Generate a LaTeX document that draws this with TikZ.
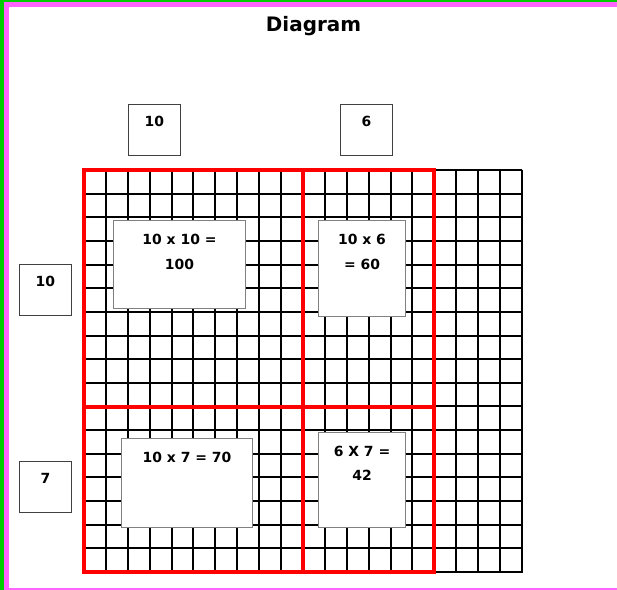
\documentclass[tikz,border=0pt]{standalone}
\usepackage{fontspec}
\setmainfont{DejaVu Sans}
\usetikzlibrary{positioning}
\definecolor{FrameGreen}{RGB}{0,204,0}
\definecolor{FrameMagenta}{RGB}{255,102,255}
\definecolor{PartRed}{RGB}{255,0,0}
\definecolor{BoxGray}{RGB}{128,128,128}

\begin{document}
\begin{tikzpicture}[
  x=1bp, y=-1bp, % one unit is one pixel of the page, y runs downwards
  every node/.style={font=\bfseries\fontsize{14}{25}\selectfont},
  titletext/.style={font=\bfseries\fontsize{20}{24}\selectfont, anchor=base},
  gridline/.style={draw=black, line width=2.2bp},
  partline/.style={draw=PartRed, line width=4bp},
  sidebox/.style={draw=black!75, line width=0.8bp, fill=white, inner sep=0pt,
    anchor=north west, minimum width=52bp, text height=22bp, text depth=29bp},
  prodbox/.style={draw=BoxGray, line width=1bp, fill=white, inner sep=0pt,
    anchor=north west, align=center}
]
\useasboundingbox (0,0) rectangle (617,590);

% --- Page frame ---
\fill[FrameGreen] (0,0) rectangle (617,2);
\fill[FrameGreen] (0,0) rectangle (4,590);
\fill[FrameMagenta] (4,2) rectangle (617,7);
\fill[FrameMagenta] (4,2) rectangle (9,590);
\fill[FrameMagenta] (9,588) rectangle (617,590);

% --- Title ---
\node[titletext] (title) at (313.5,32) {Diagram};

% --- Grid: 20 columns, 17 rows ---
\foreach \i in {0,...,20}
  \draw[gridline] ({round(84+21.9*\i)},170) -- ({round(84+21.9*\i)},573);
\foreach \j in {0,...,17}
  \draw[gridline] (84,{round(170+23.65*\j)}) -- (522,{round(170+23.65*\j)});

% --- Red parts: 10+6 by 10+7 ---
\draw[partline] (84,170) rectangle (303,407);
\draw[partline] (303,170) rectangle (434,407);
\draw[partline] (84,407) rectangle (303,572);
\draw[partline] (303,407) rectangle (434,572);

% --- Side lengths ---
\node[sidebox] (topTen) at (128,104) {10};
\node[sidebox] (topSix) at (340,104) {6};
\node[sidebox] (leftTen) at (19,264) {10};
\node[sidebox] (leftSeven) at (19,461) {7};

% --- Partial products (baseline is the last line) ---
\node[prodbox, minimum width=132bp, text height=48.5bp, text depth=39.5bp] (prodTenTen) at (113,220) {10 x 10 =\\100};
\node[prodbox, minimum width=87bp, text height=48.5bp, text depth=47.5bp] (prodTenSix) at (318,220) {10 x 6\\= 60};
\node[prodbox, minimum width=131bp, text height=23.5bp, text depth=65.5bp] (prodTenSeven) at (121,438) {10 x 7 = 70};
\node[prodbox, minimum width=87bp, text height=47.5bp, text depth=47.5bp] (prodSixSeven) at (318,432) {6 X 7 =\\[-1bp]42};

\end{tikzpicture}
\end{document}
